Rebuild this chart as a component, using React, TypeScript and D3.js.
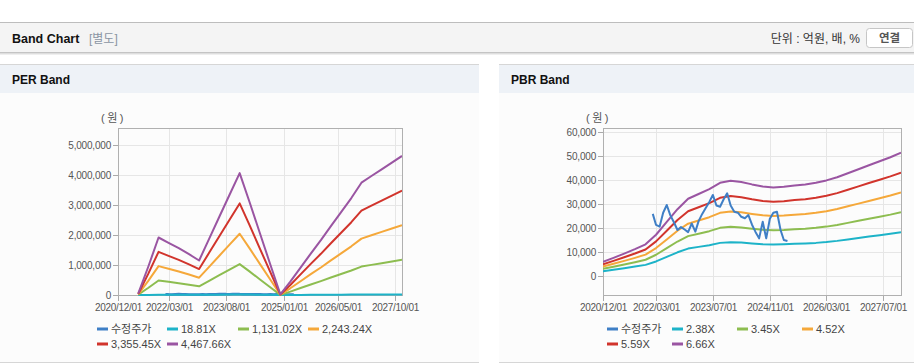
import React from "react";
import * as d3 from "d3";

// ---------- DATA ----------
const perDates = ["2021-06-01","2021-09-01","2021-12-01","2022-03-01","2022-06-01","2022-09-01","2022-12-01","2023-03-01","2023-06-01","2023-09-01","2023-12-01","2024-03-01","2024-06-01","2024-09-01","2024-12-01","2025-03-01","2025-06-01","2025-09-01","2025-12-01","2026-03-01","2026-06-01","2026-09-01","2026-12-01","2027-03-01","2027-06-01","2027-09-01","2027-12-01"];
const perEps = [10, 215, 430, 390, 350, 305, 258, 420, 585, 750, 912, 690, 460, 230, 5, 100, 205, 310, 410, 515, 620, 725, 840, 890, 940, 990, 1040];
const perMultiples = [18.81, 1131.02, 2243.24, 3355.45, 4467.66];
const perBandLabels = ["18.81X", "1,131.02X", "2,243.24X", "3,355.45X", "4,467.66X"];

const pbrDates = ["2020-12-01","2021-03-01","2021-06-01","2021-09-01","2021-12-01","2022-03-01","2022-06-01","2022-09-01","2022-12-01","2023-03-01","2023-06-01","2023-09-01","2023-12-01","2024-03-01","2024-06-01","2024-09-01","2024-12-01","2025-03-01","2025-06-01","2025-09-01","2025-12-01","2026-03-01","2026-06-01","2026-09-01","2026-12-01","2027-03-01","2027-06-01","2027-09-01","2027-12-01"];
const pbrBps = [900, 1150, 1420, 1700, 2000, 2600, 3400, 4200, 4850, 5150, 5450, 5850, 5980, 5900, 5750, 5620, 5550, 5600, 5680, 5750, 5850, 6000, 6200, 6450, 6700, 6950, 7200, 7450, 7730];
const pbrMultiples = [2.38, 3.45, 4.52, 5.59, 6.66];
const pbrBandLabels = ["2.38X", "3.45X", "4.52X", "5.59X", "6.66X"];

const priceDates = ["2022-02-01","2022-03-01","2022-04-01","2022-05-01","2022-06-01","2022-07-01","2022-08-01","2022-09-01","2022-10-01","2022-11-01","2022-12-01","2023-01-01","2023-02-01","2023-03-01","2023-04-01","2023-05-01","2023-06-01","2023-07-01","2023-08-01","2023-09-01","2023-10-01","2023-11-01","2023-12-01","2024-01-01","2024-02-01","2024-03-01","2024-04-01","2024-05-01","2024-06-01","2024-07-01","2024-08-01","2024-09-01","2024-10-01","2024-11-01","2024-12-01","2025-01-01","2025-02-01","2025-03-01","2025-04-01"];
const priceValues = [26000, 21400, 20700, 26500, 29700, 25500, 22500, 19300, 20500, 19500, 18400, 22000, 18600, 23000, 26000, 28500, 31000, 33900, 29500, 29000, 32000, 34600, 29500, 26900, 26500, 24800, 24200, 25500, 21500, 18500, 15800, 22700, 15800, 24000, 26500, 26900, 19300, 15100, 14700];
const priceLabel = "수정주가";

const perXTicks = ["2020-12-01", "2022-03-01", "2023-08-01", "2025-01-01", "2026-05-01", "2027-10-01"];
const pbrXTicks = ["2020-12-01", "2022-03-01", "2023-07-01", "2024-11-01", "2026-03-01", "2027-07-01"];
const perYTicks = [0, 1000000, 2000000, 3000000, 4000000, 5000000];
const pbrYTicks = [0, 10000, 20000, 30000, 40000, 50000, 60000];
const perYDomain = [0, 5580000];
const pbrYDomain = [-7800, 61800];
const xDomain = ["2020-12-01", "2027-12-01"];

const priceColor = "#3f7fc6";
const bandColors = ["#1db3c8", "#8dbd50", "#f5a83a", "#d1342c", "#9a55a2"];

// ---------- HELPERS ----------
const parse = d3.timeParse("%Y-%m-%d");
const fmtDate = d3.timeFormat("%Y/%m/%d");
const fmtNum = d3.format(",");
const FONT = "'Liberation Sans', Arial, 'Noto Sans CJK KR', sans-serif";

type Cfg = {
  title: string;
  px0: number;
  px1: number;
  plot: { l: number; r: number; t: number; b: number };
  dates: string[];
  base: number[];
  multiples: number[];
  bandLabels: string[];
  xTicks: string[];
  yTicks: number[];
  yDomain: number[];
  legendCols: number[];
  priceOnTop: boolean;
};

function BandPanel({ cfg }: { cfg: Cfg }) {
  const { plot } = cfg;
  const x = d3.scaleTime().domain(xDomain.map((d) => parse(d) as Date)).range([plot.l, plot.r]);
  const y = d3.scaleLinear().domain(cfg.yDomain).range([plot.b, plot.t]);
  const line = d3
    .line<[Date, number]>()
    .x((d) => x(d[0]))
    .y((d) => y(d[1]));

  const bandPaths = cfg.multiples.map((m) =>
    line(cfg.dates.map((d, i) => [parse(d) as Date, cfg.base[i] * m]))
  );
  const pricePath = line(priceDates.map((d, i) => [parse(d) as Date, priceValues[i]]));
  const priceEl = (
    <path d={pricePath || ""} fill="none" stroke={priceColor} strokeWidth={cfg.priceOnTop ? 2 : 2.5} strokeLinejoin="round" />
  );

  const legendItems = [
    { label: priceLabel, color: priceColor },
    ...cfg.bandLabels.map((l, i) => ({ label: l, color: bandColors[i] })),
  ];
  const clipId = "clip-" + cfg.title.replace(/\s/g, "");

  return (
    <g>
      {/* panel */}
      <rect x={cfg.px0} y={64} width={cfg.px1 - cfg.px0} height={298} fill="#fcfcfc" />
      <rect x={cfg.px0} y={64} width={cfg.px1 - cfg.px0} height={29} fill="#eef2f7" />
      <line x1={cfg.px0} x2={cfg.px1} y1={64.5} y2={64.5} stroke="#d6d6d6" />
      <line x1={cfg.px0} x2={cfg.px1} y1={362.5} y2={362.5} stroke="#d6d6d6" />
      <text x={cfg.px0 + 12} y={84} fontFamily={FONT} fontWeight="bold" fontSize={12} fill="#111">
        {cfg.title}
      </text>
      <text x={plot.l - 17} y={122} fontFamily={FONT} fontSize={11} fill="#555" letterSpacing={2.5}>
        (원)
      </text>

      {/* grid */}
      {cfg.yTicks.map((t) => (
        <line key={"gy" + t} x1={plot.l} x2={plot.r} y1={Math.round(y(t)) + 0.5} y2={Math.round(y(t)) + 0.5} stroke="#e6e6e6" />
      ))}
      {cfg.xTicks.slice(1).map((t) => {
        const xx = Math.round(x(parse(t) as Date)) + 0.5;
        return <line key={"gx" + t} x1={xx} x2={xx} y1={plot.t} y2={plot.b} stroke="#e6e6e6" />;
      })}

      {/* y axis ticks & labels */}
      {cfg.yTicks.map((t) => {
        const yy = Math.round(y(t)) + 0.5;
        return (
          <g key={"yt" + t}>
            <line x1={plot.l - 5} x2={plot.l} y1={yy} y2={yy} stroke="#aaa" />
            <text x={plot.l - 7} y={yy + 3.5} textAnchor="end" fontFamily={FONT} fontSize={10} fill="#555" letterSpacing={-0.2}>
              {fmtNum(t)}
            </text>
          </g>
        );
      })}
      {/* x axis ticks & labels */}
      {cfg.xTicks.map((t) => {
        const xx = Math.round(x(parse(t) as Date)) + 0.5;
        return (
          <g key={"xt" + t}>
            <line x1={xx} x2={xx} y1={plot.b} y2={plot.b + 6} stroke="#aaa" />
            <text x={xx} y={311} textAnchor="middle" fontFamily={FONT} fontSize={10} fill="#555" letterSpacing={-0.3}>
              {fmtDate(parse(t) as Date)}
            </text>
          </g>
        );
      })}

      {/* frame */}
      <rect x={plot.l + 0.5} y={plot.t + 0.5} width={plot.r - plot.l} height={plot.b - plot.t} fill="none" stroke="#b0b0b0" />

      <clipPath id={clipId}>
        <rect x={plot.l} y={plot.t} width={plot.r - plot.l} height={plot.b - plot.t + 1} />
      </clipPath>
      <g clipPath={`url(#${clipId})`}>
        {!cfg.priceOnTop && priceEl}
        {bandPaths.map((p, i) => (
          <path key={"b" + i} d={p || ""} fill="none" stroke={bandColors[i]} strokeWidth={2} strokeLinejoin="round" />
        ))}
        {cfg.priceOnTop && priceEl}
      </g>

      {/* legend */}
      {legendItems.map((it, i) => {
        const col = cfg.legendCols[i % 4];
        const ly = i < 4 ? 329 : 344;
        return (
          <g key={"lg" + i}>
            <line x1={col} x2={col + 11} y1={ly} y2={ly} stroke={it.color} strokeWidth={3} />
            <text x={col + 14} y={ly + 4} fontFamily={FONT} fontSize={11} fill="#444">
              {it.label}
            </text>
          </g>
        );
      })}
    </g>
  );
}

const perCfg: Cfg = {
  title: "PER Band",
  px0: 0,
  px1: 479,
  plot: { l: 118, r: 402, t: 128, b: 295 },
  dates: perDates,
  base: perEps,
  multiples: perMultiples,
  bandLabels: perBandLabels,
  xTicks: perXTicks,
  yTicks: perYTicks,
  yDomain: perYDomain,
  legendCols: [97, 167, 238, 308],
  priceOnTop: false,
};

const pbrCfg: Cfg = {
  title: "PBR Band",
  px0: 499,
  px1: 914,
  plot: { l: 603, r: 901, t: 128, b: 295 },
  dates: pbrDates,
  base: pbrBps,
  multiples: pbrMultiples,
  bandLabels: pbrBandLabels,
  xTicks: pbrXTicks,
  yTicks: pbrYTicks,
  yDomain: pbrYDomain,
  legendCols: [607, 672, 737, 802],
  priceOnTop: true,
};

export default function App() {
  return (
    <div style={{ position: "fixed", left: 0, top: 0, width: 914, height: 364, background: "#fff" }}>
      <svg width={914} height={364} style={{ display: "block" }}>
        <rect x={0} y={0} width={914} height={364} fill="#fff" />
        {/* header */}
        <rect x={0} y={22} width={914} height={31} fill="#f4f4f4" />
        <line x1={0} x2={914} y1={22.5} y2={22.5} stroke="#bdbdbd" />
        <line x1={0} x2={914} y1={52.5} y2={52.5} stroke="#c4c4c4" />
        <line x1={0} x2={914} y1={53.5} y2={53.5} stroke="#dedede" />
        <line x1={0} x2={914} y1={54.5} y2={54.5} stroke="#efefef" />
        <text x={12} y={43} fontFamily={FONT} fontWeight="bold" fontSize={12.5} fill="#111">
          Band Chart
        </text>
        <text x={89} y={43} fontFamily={FONT} fontSize={12} fill="#8a94a3">
          [별도]
        </text>
        <text x={860} y={43} textAnchor="end" fontFamily={FONT} fontSize={12} fill="#333">
          단위 : 억원, 배, %
        </text>
        <rect x={866.5} y={28.5} width={46} height={19} rx={3} fill="#fff" stroke="#c6c6c6" />
        <text x={889.5} y={42} textAnchor="middle" fontFamily={FONT} fontWeight="bold" fontSize={11.5} fill="#555">
          연결
        </text>

        <BandPanel cfg={perCfg} />
        <BandPanel cfg={pbrCfg} />
      </svg>
    </div>
  );
}
